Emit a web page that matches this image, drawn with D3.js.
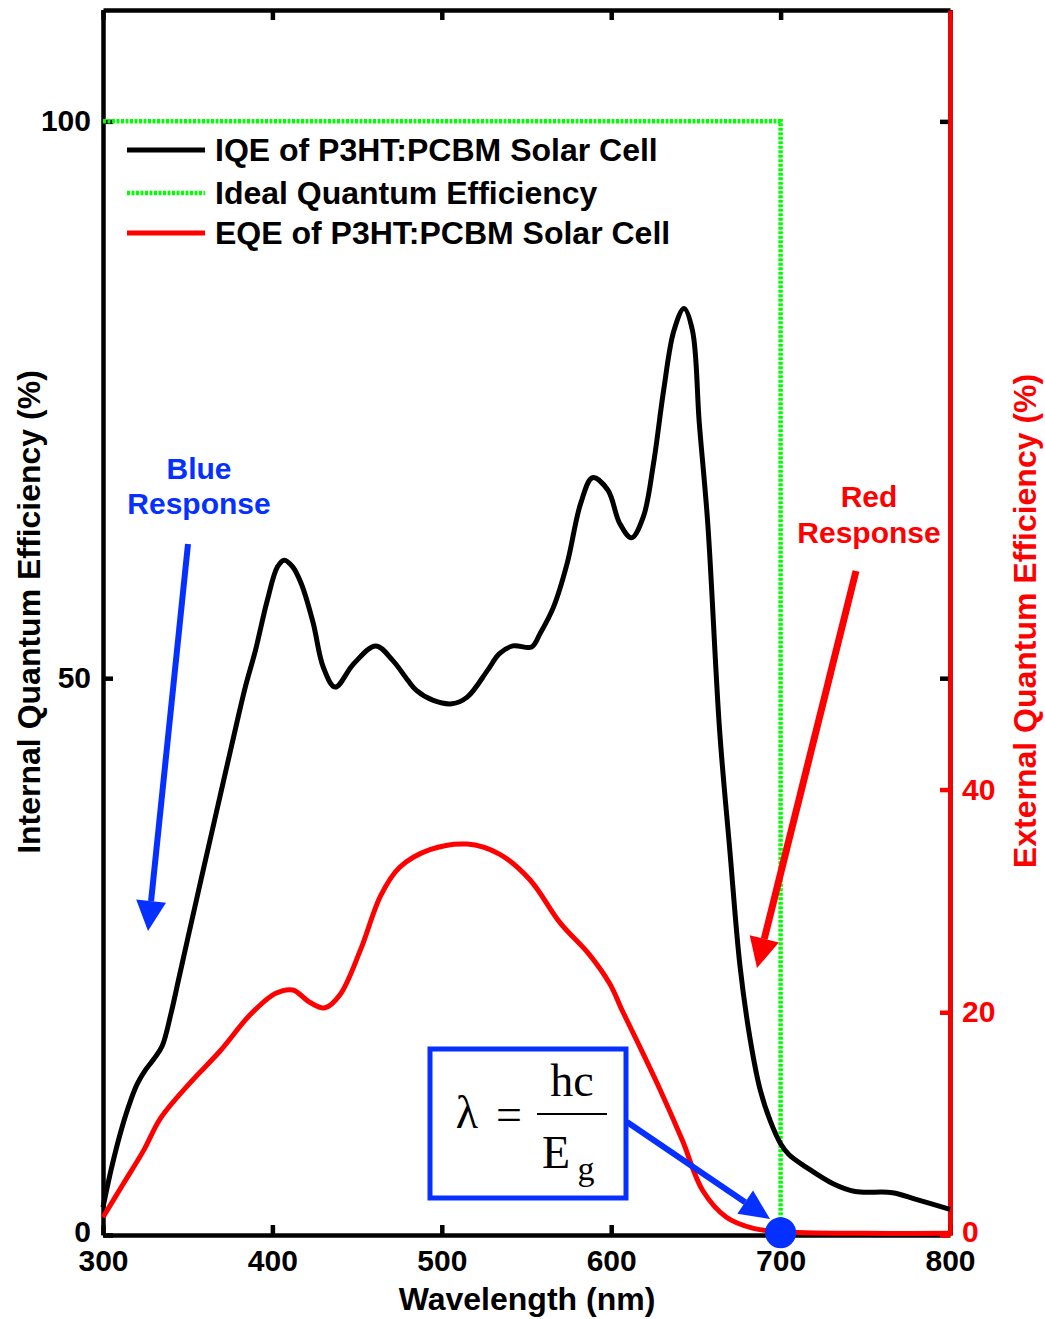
<!DOCTYPE html>
<html>
<head>
<meta charset="utf-8">
<script src="https://cdn.jsdelivr.net/npm/d3@7"></script>
<style>
  html, body { margin: 0; padding: 0; background: #fff; }
  svg text { font-family: "Liberation Sans", Arial, sans-serif; font-weight: bold; }
</style>
</head>
<body>
<div id="chart"></div>
<script>
// IQE of P3HT:PCBM (left axis, %)
const iqeWl = [300, 305, 310, 315, 320, 325, 330, 335, 340, 345, 350, 358, 367, 376, 384, 390, 397, 403, 407,
  412, 417, 424, 430, 437, 448, 461, 471, 480, 485, 495, 506, 515, 527, 534, 542, 553, 558, 566, 574, 582, 589,
  598, 605, 612, 619, 625, 631, 637, 643, 648, 652, 657, 664, 670, 676, 682, 688, 694, 700, 705, 715, 731, 744,
  766, 780, 800];
const iqeVal = [2.5, 6, 9, 11.5, 13.5, 14.8, 15.8, 17, 19.8, 23.2, 26.6, 32, 38, 44, 49.2, 52.5, 57, 60, 60.6,
  60, 58.5, 55, 51, 49.2, 51.3, 52.9, 51.6, 49.8, 48.9, 48, 47.7, 48.3, 50.7, 52.2, 52.9, 52.8, 54, 56.4, 60.3, 65.7, 68,
  66.9, 63.9, 62.6, 64.5, 69.3, 75.9, 81.2, 83.2, 81.2, 72.9, 63.9, 45.3, 34.6, 24.2, 17.6, 13, 10.2, 8.2, 7.2, 6.1, 4.6, 3.9,
  3.8, 3.2, 2.3];

// EQE of P3HT:PCBM (right axis, %)
const eqeWl = [300, 312, 324, 334, 351, 369, 387, 402, 412, 422, 431, 440, 452, 464, 475, 493, 515, 534, 552, 570,
  587, 599, 607, 615, 629, 642, 654, 668, 684, 700, 750, 800];
const eqeVal = [1.6, 4.6, 7.6, 10.5, 13.6, 16.5, 19.8, 21.7, 22, 20.9, 20.4, 21.6, 25.6, 30.5, 33, 34.6, 35.1, 34.2,
  31.9, 28, 25.2, 22.6, 20, 17.5, 13, 8.5, 4, 1.6, 0.6, 0.3, 0.15, 0.15];

// ideal quantum efficiency step
const idealWl = [300, 700, 700];
const idealVal = [100, 100, 0];

const xTicks = [300, 400, 500, 600, 700, 800];
const leftTicks = [0, 50, 100];
const rightTicks = [0, 20, 40];

const legendLabels = ["IQE of P3HT:PCBM Solar Cell", "Ideal Quantum Efficiency", "EQE of P3HT:PCBM Solar Cell"];

const W = 1045, H = 1319;
const m = { left: 103, right: 950, top: 10, bottom: 1235 };
const BLUE = "#0530ff", RED = "#ff0000", GREEN = "#00ff00";

const svg = d3.select("#chart").append("svg").attr("width", W).attr("height", H);

const x = d3.scaleLinear().domain([300, 800]).range([m.left, m.right]);
const yL = d3.scaleLinear().domain([0, 110]).range([m.bottom, m.top]);
const yR = d3.scaleLinear().domain([0, 110]).range([m.bottom, m.top]);

function styleAxis(g, color, size) {
  g.select(".domain").attr("stroke", color).attr("stroke-width", 4.5);
  g.selectAll(".tick line").attr("stroke", color).attr("stroke-width", 4.5);
  g.selectAll(".tick text").attr("fill", color).style("font-size", size + "px");
}

// bottom
svg.append("g").attr("transform", `translate(0,${m.bottom})`)
  .call(d3.axisBottom(x).tickValues(xTicks).tickSizeInner(-10).tickSizeOuter(0).tickPadding(15).tickFormat(d3.format("d")))
  .call(g => styleAxis(g, "#000", 30));
// top
svg.append("g").attr("transform", `translate(0,${m.top})`)
  .call(d3.axisTop(x).tickValues(xTicks).tickSizeInner(-10).tickSizeOuter(0).tickFormat(""))
  .call(g => styleAxis(g, "#000", 30));
// left
svg.append("g").attr("transform", `translate(${m.left},0)`)
  .call(d3.axisLeft(yL).tickValues(leftTicks).tickSizeInner(-10).tickSizeOuter(0).tickPadding(12))
  .call(g => styleAxis(g, "#000", 30))
  .call(g => g.selectAll(".tick text").filter(d => d === 0).attr("dy", "0.2em"));
// right black ticks mirrored from left axis
svg.append("g").attr("transform", `translate(${m.right},0)`)
  .call(d3.axisRight(yL).tickValues([50, 100]).tickSizeInner(-10).tickSizeOuter(0).tickFormat(""))
  .call(g => styleAxis(g, "#000", 30));
// right red axis
svg.append("g").attr("transform", `translate(${m.right},0)`)
  .call(d3.axisRight(yR).tickValues(rightTicks).tickSizeInner(-10).tickSizeOuter(0).tickPadding(12))
  .call(g => styleAxis(g, RED, 30))
  .call(g => g.selectAll(".tick text").filter(d => d === 0).attr("dy", "0.2em"));

// axis titles
svg.append("text").attr("x", 527).attr("y", 1310).attr("text-anchor", "middle")
  .style("font-size", "32px").text("Wavelength (nm)");
svg.append("text").attr("transform", "translate(40,612) rotate(-90)").attr("text-anchor", "middle")
  .style("font-size", "32px").text("Internal Quantum Efficiency (%)");
svg.append("text").attr("transform", "translate(1036,621) rotate(-90)").attr("text-anchor", "middle")
  .attr("fill", RED).style("font-size", "32px").text("External Quantum Efficiency (%)");

// curves
const lineL = d3.line().x(d => x(d[0])).y(d => yL(d[1])).curve(d3.curveCatmullRom.alpha(0.5));
const lineR = d3.line().x(d => x(d[0])).y(d => yR(d[1])).curve(d3.curveCatmullRom.alpha(0.5));
const lineStep = d3.line().x(d => x(d[0])).y(d => yL(d[1]));

svg.append("path").datum(d3.zip(idealWl, idealVal)).attr("d", lineStep)
  .attr("fill", "none").attr("stroke", GREEN).attr("stroke-width", 4.5).attr("stroke-dasharray", "3,1.5");
svg.append("path").datum(d3.zip(iqeWl, iqeVal)).attr("d", lineL)
  .attr("fill", "none").attr("stroke", "#000").attr("stroke-width", 5).attr("stroke-linejoin", "round");
svg.append("path").datum(d3.zip(eqeWl, eqeVal)).attr("d", lineR)
  .attr("fill", "none").attr("stroke", RED).attr("stroke-width", 5).attr("stroke-linejoin", "round");

// legend
const legendY = [150, 193, 233];
const legendStyle = [
  { stroke: "#000", dash: null, w: 5 },
  { stroke: GREEN, dash: "3,1.5", w: 4.5 },
  { stroke: RED, dash: null, w: 5 }];
legendLabels.forEach((lab, i) => {
  svg.append("line").attr("x1", 127).attr("x2", 205).attr("y1", legendY[i]).attr("y2", legendY[i])
    .attr("stroke", legendStyle[i].stroke).attr("stroke-width", legendStyle[i].w)
    .attr("stroke-dasharray", legendStyle[i].dash);
  svg.append("text").attr("x", 215).attr("y", legendY[i] + 11).style("font-size", "32px").text(lab);
});

// arrows
function arrow(x1, y1, x2, y2, color, w, headLen, headW) {
  const ang = Math.atan2(y2 - y1, x2 - x1);
  const bx = x2 - headLen * Math.cos(ang), by = y2 - headLen * Math.sin(ang);
  svg.append("line").attr("x1", x1).attr("y1", y1).attr("x2", bx).attr("y2", by)
    .attr("stroke", color).attr("stroke-width", w);
  const px = -Math.sin(ang) * headW / 2, py = Math.cos(ang) * headW / 2;
  svg.append("path").attr("d", `M${x2},${y2}L${bx + px},${by + py}L${bx - px},${by - py}Z`).attr("fill", color);
}

// blue response
svg.append("text").attr("x", 199).attr("y", 479).attr("text-anchor", "middle").attr("fill", BLUE)
  .style("font-size", "30px").text("Blue");
svg.append("text").attr("x", 199).attr("y", 514).attr("text-anchor", "middle").attr("fill", BLUE)
  .style("font-size", "30px").text("Response");
arrow(188, 544, 148, 931, BLUE, 6, 30, 30);

// red response
svg.append("text").attr("x", 869).attr("y", 507).attr("text-anchor", "middle").attr("fill", RED)
  .style("font-size", "30px").text("Red");
svg.append("text").attr("x", 869).attr("y", 543).attr("text-anchor", "middle").attr("fill", RED)
  .style("font-size", "30px").text("Response");
arrow(856, 571, 757, 968, RED, 7, 30, 30);

// band-gap formula box
svg.append("rect").attr("x", 430).attr("y", 1049).attr("width", 196).attr("height", 149)
  .attr("fill", "#fff").attr("stroke", BLUE).attr("stroke-width", 5);
const serif = "'Liberation Serif', 'Times New Roman', serif";
svg.append("text").attr("x", 467).attr("y", 1128).attr("text-anchor", "middle")
  .style("font-family", serif).style("font-weight", "normal").style("font-size", "46px").text("λ");
svg.append("text").attr("x", 509).attr("y", 1130).attr("text-anchor", "middle")
  .style("font-family", serif).style("font-weight", "normal").style("font-size", "46px").text("=");
svg.append("text").attr("x", 572).attr("y", 1096).attr("text-anchor", "middle")
  .style("font-family", serif).style("font-weight", "normal").style("font-size", "46px").text("hc");
svg.append("line").attr("x1", 537).attr("x2", 607).attr("y1", 1114).attr("y2", 1114)
  .attr("stroke", "#000").attr("stroke-width", 2);
svg.append("text").attr("x", 556).attr("y", 1168).attr("text-anchor", "middle")
  .style("font-family", serif).style("font-weight", "normal").style("font-size", "46px").text("E");
svg.append("text").attr("x", 586).attr("y", 1180).attr("text-anchor", "middle")
  .style("font-family", serif).style("font-weight", "normal").style("font-size", "34px").text("g");
arrow(627, 1122, 770, 1219, BLUE, 6, 30, 28);

// cutoff marker at 700 nm
svg.append("circle").attr("cx", x(700)).attr("cy", yL(0.2)).attr("r", 15.5).attr("fill", BLUE);
</script>
</body>
</html>
